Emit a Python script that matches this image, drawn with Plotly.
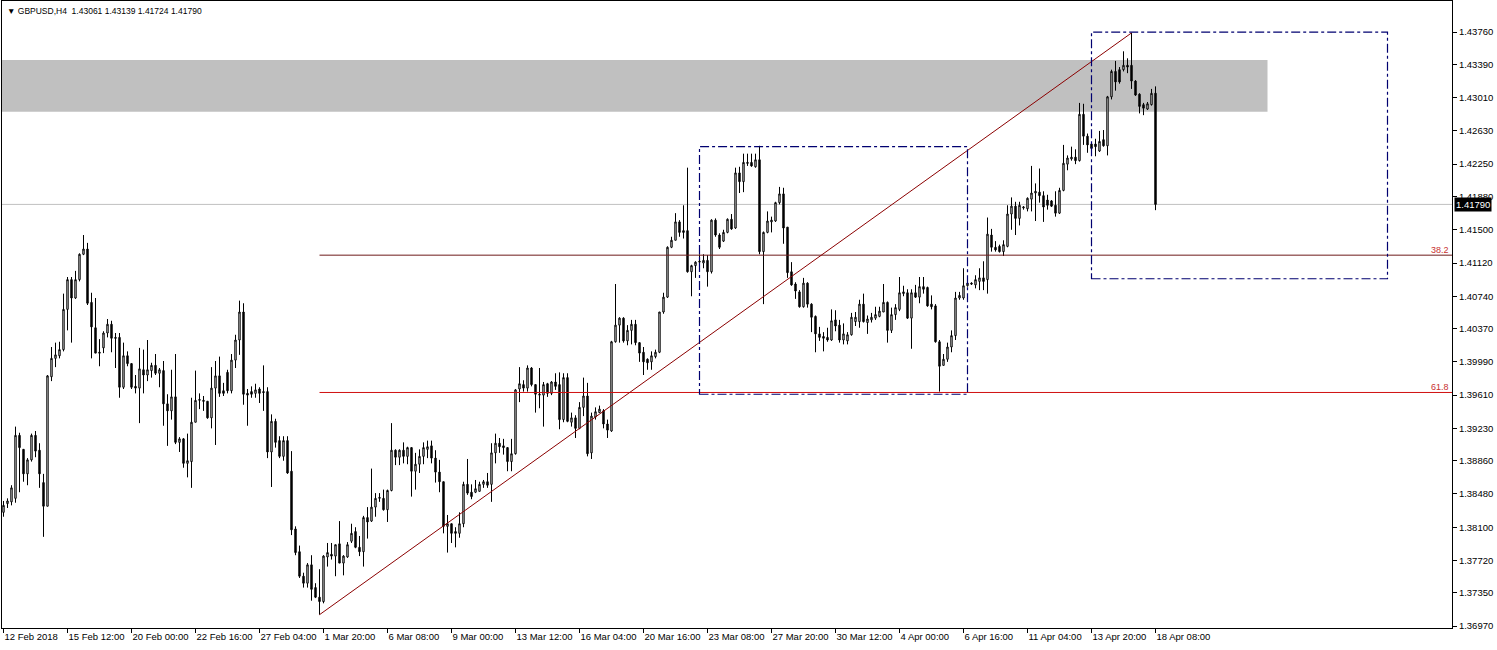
import plotly.graph_objects as go

# ---------------- data (GBPUSD H4) ----------------
header_text = "▼ GBPUSD,H4  1.43061 1.43139 1.41724 1.41790"

tick_labels = ["12 Feb 2018", "15 Feb 12:00", "20 Feb 00:00", "22 Feb 16:00", "27 Feb 04:00",
               "1 Mar 20:00", "6 Mar 08:00", "9 Mar 00:00", "13 Mar 12:00", "16 Mar 04:00",
               "20 Mar 16:00", "23 Mar 08:00", "27 Mar 20:00", "30 Mar 12:00", "4 Apr 00:00",
               "6 Apr 16:00", "11 Apr 04:00", "13 Apr 20:00", "18 Apr 08:00"]
bars_per_label = 16

price_ticks = [1.43760, 1.43390, 1.43010, 1.42630, 1.42250, 1.41880, 1.41500, 1.41120, 1.40740,
               1.40370, 1.39990, 1.39610, 1.39230, 1.38860, 1.38480, 1.38100, 1.37720, 1.37350, 1.36970]
price_range = [1.36948, 1.44115]

opens = [1.3827,1.3837,1.3839,1.3843,1.3915,1.3899,1.3871,1.3887,1.3915,1.3898,
         1.3861,1.3834,1.3982,1.4003,1.4006,1.4013,1.4059,1.4093,1.4072,1.4093,
         1.4122,1.4128,1.4067,1.4038,1.4010,1.4015,1.4032,1.4042,1.4027,1.4027,
         1.3970,1.4006,1.3997,1.3971,1.3969,1.3990,1.3984,1.3989,1.3995,1.3986,
         1.3989,1.3951,1.3943,1.3959,1.3907,1.3911,1.3883,1.3885,1.3930,1.3955,
         1.3955,1.3954,1.3935,1.3969,1.3983,1.3966,1.3987,1.3966,1.4001,1.4024,
         1.4056,1.3963,1.3965,1.3963,1.3968,1.3965,1.3965,1.3896,1.3931,1.3909,
         1.3891,1.3909,1.3874,1.3808,1.3782,1.3754,1.3746,1.3767,1.3741,1.3730,
         1.3725,1.3776,1.3779,1.3777,1.3791,1.3769,1.3776,1.3794,1.3805,1.3787,
         1.3782,1.3821,1.3817,1.3833,1.3843,1.3843,1.3830,1.3852,1.3898,1.3890,
         1.3898,1.3891,1.3901,1.3874,1.3882,1.3891,1.3899,1.3903,1.3889,1.3873,
         1.3862,1.3811,1.3814,1.3805,1.3803,1.3814,1.3859,1.3850,1.3850,1.3851,
         1.3859,1.3862,1.3859,1.3895,1.3906,1.3903,1.3901,1.3885,1.3894,1.3968,
         1.3973,1.3969,1.3992,1.3973,1.3961,1.3961,1.3974,1.3963,1.3976,1.3973,
         1.3933,1.3981,1.3930,1.3935,1.3923,1.3947,1.3960,1.3895,1.3936,1.3941,
         1.3943,1.3928,1.3920,1.4022,1.4041,1.4049,1.4023,1.4035,1.4042,1.4021,
         1.4010,1.4002,1.3999,1.4005,1.4010,1.4056,1.4073,1.4130,1.4138,1.4159,
         1.4149,1.4149,1.4102,1.4109,1.4113,1.4112,1.4115,1.4102,1.4161,1.4144,
         1.4137,1.4147,1.4162,1.4152,1.4215,1.4205,1.4227,1.4227,1.4222,1.4230,
         1.4125,1.4147,1.4159,1.4160,1.4181,1.4191,1.4153,1.4102,1.4088,1.4079,
         1.4062,1.4089,1.4065,1.4051,1.4031,1.4028,1.4027,1.4024,1.4047,1.4041,
         1.4024,1.4023,1.4030,1.4045,1.4045,1.4065,1.4044,1.4047,1.4049,1.4051,
         1.4056,1.4067,1.4035,1.4053,1.4059,1.4077,1.4078,1.4049,1.4078,1.4073,
         1.4085,1.4084,1.4065,1.4063,1.4022,1.3995,1.4002,1.4016,1.4029,1.4072,
         1.4072,1.4086,1.4089,1.4087,1.4091,1.4095,1.4093,1.4144,1.4130,1.4131,
         1.4125,1.4131,1.4168,1.4177,1.4163,1.4175,1.4174,1.4185,1.4192,1.4193,
         1.4189,1.4184,1.4183,1.4178,1.4169,1.4195,1.4225,1.4231,1.4233,1.4229,
         1.4282,1.4257,1.4248,1.4248,1.4240,1.4253,1.4246,1.4302,1.4331,1.4333,
         1.4333,1.4338,1.4338,1.4320,1.4305,1.4293,1.4288,1.4293,1.43061]

highs = [1.3840,1.3843,1.3858,1.3925,1.3918,1.3899,1.3889,1.3917,1.3920,1.3906,
         1.3871,1.3984,1.4016,1.4021,1.4022,1.4077,1.4096,1.4096,1.4103,1.4123,
         1.4144,1.4135,1.4078,1.4072,1.4025,1.4034,1.4048,1.4046,1.4032,1.4032,
         1.4021,1.4011,1.3997,1.3984,1.4015,1.4013,1.4024,1.3998,1.4008,1.3992,
         1.4000,1.3962,1.3990,1.4008,1.3913,1.3912,1.3917,1.3958,1.3989,1.3963,
         1.3960,1.3954,1.3993,1.4000,1.4005,1.3975,1.3990,1.4008,1.4030,1.4069,
         1.4066,1.3968,1.3971,1.3974,1.3970,1.3995,1.3970,1.3939,1.3934,1.3914,
         1.3914,1.3914,1.3897,1.3811,1.3789,1.3758,1.3769,1.3778,1.3746,1.3762,
         1.3778,1.3792,1.3792,1.3790,1.3817,1.3778,1.3793,1.3814,1.3810,1.3800,
         1.3823,1.3833,1.3877,1.3849,1.3849,1.3853,1.3853,1.3929,1.3899,1.3899,
         1.3907,1.3902,1.3901,1.3895,1.3899,1.3907,1.3909,1.3909,1.3898,1.3887,
         1.3862,1.3824,1.3814,1.3810,1.3827,1.3862,1.3888,1.3859,1.3864,1.3862,
         1.3864,1.3872,1.3906,1.3917,1.3912,1.3911,1.3901,1.3911,1.3968,1.3993,
         1.3978,1.3995,1.3993,1.3973,1.3992,1.3976,1.3975,1.3977,1.3986,1.3987,
         1.3986,1.3986,1.3941,1.3938,1.3953,1.3981,1.3975,1.3941,1.3947,1.3949,
         1.3945,1.3933,1.4023,1.4088,1.4050,1.4050,1.4041,1.4047,1.4047,1.4021,
         1.4016,1.4003,1.4011,1.4013,1.4056,1.4078,1.4131,1.4142,1.4169,1.4161,
         1.4178,1.4221,1.4110,1.4114,1.4122,1.4122,1.4121,1.4162,1.4163,1.4146,
         1.4150,1.4163,1.4168,1.4221,1.4222,1.4237,1.4237,1.4237,1.4237,1.4246,
         1.4148,1.4171,1.4165,1.4182,1.4199,1.4198,1.4153,1.4113,1.4090,1.4081,
         1.4095,1.4090,1.4066,1.4052,1.4039,1.4033,1.4038,1.4059,1.4058,1.4047,
         1.4043,1.4033,1.4055,1.4056,1.4070,1.4077,1.4052,1.4055,1.4062,1.4062,
         1.4088,1.4068,1.4061,1.4065,1.4096,1.4086,1.4082,1.4082,1.4087,1.4096,
         1.4096,1.4085,1.4075,1.4065,1.4024,1.4008,1.4021,1.4035,1.4079,1.4079,
         1.4106,1.4095,1.4090,1.4098,1.4106,1.4114,1.4164,1.4151,1.4137,1.4133,
         1.4138,1.4178,1.4187,1.4182,1.4182,1.4177,1.4187,1.4223,1.4203,1.4220,
         1.4194,1.4190,1.4184,1.4194,1.4198,1.4247,1.4235,1.4245,1.4242,1.4295,
         1.4294,1.4260,1.4250,1.4254,1.4263,1.4264,1.4303,1.4333,1.4343,1.4336,
         1.4354,1.4346,1.4375,1.4321,1.4306,1.4295,1.4296,1.4311,1.43139]

lows = [1.3822,1.3832,1.3835,1.3838,1.3850,1.3862,1.3858,1.3885,1.3890,1.3855,
        1.3799,1.3834,1.3977,1.3993,1.4003,1.4011,1.4035,1.4021,1.4071,1.4091,
        1.4121,1.4064,1.4003,1.4009,1.3994,1.4009,1.4027,1.4010,1.3992,1.3958,
        1.3968,1.3994,1.3968,1.3963,1.3929,1.3963,1.3977,1.3981,1.3984,1.3970,
        1.3926,1.3903,1.3933,1.3905,1.3896,1.3878,1.3867,1.3855,1.3930,1.3945,
        1.3943,1.3934,1.3923,1.3904,1.3959,1.3960,1.3963,1.3963,1.3992,1.4007,
        1.3950,1.3926,1.3958,1.3958,1.3952,1.3943,1.3889,1.3856,1.3901,1.3889,
        1.3886,1.3871,1.3801,1.3778,1.3752,1.3741,1.3741,1.3726,1.3729,1.3710,
        1.3723,1.3765,1.3773,1.3754,1.3769,1.3755,1.3775,1.3792,1.3786,1.3777,
        1.3765,1.3797,1.3816,1.3822,1.3839,1.3829,1.3816,1.3851,1.3881,1.3881,
        1.3883,1.3882,1.3845,1.3853,1.3872,1.3882,1.3889,1.3883,1.3861,1.3850,
        1.3803,1.3781,1.3792,1.3787,1.3798,1.3810,1.3847,1.3842,1.3849,1.3851,
        1.3855,1.3855,1.3839,1.3883,1.3895,1.3893,1.3874,1.3874,1.3893,1.3953,
        1.3965,1.3965,1.3971,1.3941,1.3946,1.3925,1.3959,1.3961,1.3967,1.3922,
        1.3930,1.3930,1.3925,1.3912,1.3922,1.3937,1.3891,1.3888,1.3933,1.3941,
        1.3923,1.3912,1.3919,1.4021,1.4021,1.4021,1.4018,1.4019,1.4018,1.3999,
        1.3984,1.3990,1.3990,1.4003,1.4009,1.4054,1.4072,1.4129,1.4138,1.4142,
        1.4140,1.4101,1.4074,1.4095,1.4105,1.4106,1.4085,1.4100,1.4142,1.4128,
        1.4136,1.4146,1.4150,1.4151,1.4192,1.4193,1.4223,1.4222,1.4221,1.4122,
        1.4065,1.4146,1.4147,1.4159,1.4179,1.4134,1.4095,1.4086,1.4071,1.4061,
        1.4061,1.4061,1.4033,1.4010,1.4023,1.4011,1.4022,1.4023,1.4034,1.4021,
        1.4019,1.4019,1.4029,1.4040,1.4038,1.4044,1.4031,1.4044,1.4047,1.4050,
        1.4056,1.4021,1.4032,1.4047,1.4057,1.4074,1.4048,1.4014,1.4072,1.4066,
        1.4077,1.4062,1.4059,1.4021,1.3965,1.3995,1.3999,1.4010,1.4024,1.4070,
        1.4070,1.4085,1.4087,1.4083,1.4081,1.4081,1.4077,1.4125,1.4125,1.4124,
        1.4120,1.4130,1.4150,1.4144,1.4155,1.4173,1.4171,1.4171,1.4160,1.4181,
        1.4159,1.4173,1.4176,1.4165,1.4168,1.4194,1.4218,1.4229,1.4225,1.4228,
        1.4247,1.4238,1.4241,1.4234,1.4239,1.4245,1.4235,1.4299,1.4309,1.4317,
        1.4331,1.4329,1.4311,1.4303,1.4283,1.4281,1.4287,1.4292,1.41724]

closes = [1.3835,1.3840,1.3855,1.3915,1.3901,1.3871,1.3887,1.3915,1.3897,1.3871,
          1.3834,1.3983,1.4003,1.4007,1.4013,1.4059,1.4093,1.4072,1.4093,1.4122,
          1.4128,1.4066,1.4039,1.4009,1.4009,1.4032,1.4042,1.4026,1.4026,1.3970,
          1.4006,1.3997,1.3970,1.3969,1.3991,1.3984,1.3990,1.3995,1.3986,1.3990,
          1.3951,1.3943,1.3959,1.3907,1.3911,1.3883,1.3886,1.3930,1.3955,1.3956,
          1.3954,1.3935,1.3969,1.3983,1.3963,1.3963,1.3966,1.4001,1.4024,1.4056,
          1.3962,1.3961,1.3962,1.3967,1.3963,1.3964,1.3896,1.3931,1.3907,1.3891,
          1.3909,1.3872,1.3807,1.3781,1.3754,1.3746,1.3767,1.3739,1.3730,1.3725,
          1.3777,1.3781,1.3777,1.3790,1.3769,1.3777,1.3790,1.3803,1.3787,1.3782,
          1.3821,1.3816,1.3833,1.3843,1.3844,1.3830,1.3852,1.3898,1.3890,1.3898,
          1.3891,1.3901,1.3874,1.3882,1.3891,1.3901,1.3902,1.3889,1.3873,1.3862,
          1.3811,1.3814,1.3803,1.3803,1.3814,1.3859,1.3849,1.3845,1.3854,1.3859,
          1.3862,1.3858,1.3895,1.3906,1.3902,1.3901,1.3885,1.3894,1.3967,1.3974,
          1.3969,1.3992,1.3973,1.3962,1.3962,1.3973,1.3963,1.3976,1.3971,1.3933,
          1.3981,1.3931,1.3935,1.3923,1.3947,1.3960,1.3894,1.3937,1.3942,1.3945,
          1.3928,1.3921,1.4022,1.4041,1.4049,1.4023,1.4035,1.4042,1.4021,1.4009,
          1.3999,1.3998,1.4006,1.4010,1.4056,1.4073,1.4130,1.4138,1.4159,1.4147,
          1.4147,1.4102,1.4109,1.4113,1.4114,1.4115,1.4102,1.4161,1.4144,1.4130,
          1.4147,1.4162,1.4151,1.4215,1.4205,1.4227,1.4226,1.4223,1.4230,1.4125,
          1.4147,1.4160,1.4161,1.4181,1.4191,1.4152,1.4101,1.4087,1.4080,1.4062,
          1.4089,1.4065,1.4050,1.4031,1.4027,1.4026,1.4024,1.4046,1.4040,1.4024,
          1.4031,1.4030,1.4050,1.4050,1.4065,1.4045,1.4048,1.4050,1.4053,1.4057,
          1.4067,1.4035,1.4053,1.4061,1.4078,1.4079,1.4049,1.4078,1.4073,1.4085,
          1.4082,1.4063,1.4062,1.4022,1.3994,1.4002,1.4016,1.4029,1.4072,1.4075,
          1.4086,1.4089,1.4088,1.4093,1.4095,1.4091,1.4145,1.4130,1.4127,1.4125,
          1.4133,1.4168,1.4177,1.4163,1.4178,1.4176,1.4186,1.4192,1.4194,1.4189,
          1.4176,1.4178,1.4177,1.4169,1.4195,1.4226,1.4232,1.4233,1.4229,1.4282,
          1.4257,1.4247,1.4243,1.4245,1.4251,1.4246,1.4302,1.4331,1.4319,1.4319,
          1.4338,1.4336,1.4320,1.4304,1.4291,1.4289,1.4294,1.4306,1.41790]

# chart objects (bar index / price anchors)
zone_bars = [-5, 316]
zone_prices = [1.4285, 1.4344]
fib_anchor_bars = [79, 282]
fib_anchor_prices = [1.3710, 1.4375]
fib_levels = [38.2, 61.8]
fib_colors = ["#6e1a1a", "#d01010"]
box1_bars, box1_prices = [174, 241], [1.3962, 1.4245]
box2_bars, box2_prices = [272, 346], [1.4094, 1.4376]
last_price = 1.41790

# ---------------- figure ----------------
bar_index = list(range(len(opens)))
FONT = "Liberation Sans, Arial, sans-serif"

fig = go.Figure(go.Candlestick(
    x=bar_index, open=opens, high=highs, low=lows, close=closes,
    increasing=dict(line=dict(color="black", width=1), fillcolor="white"),
    decreasing=dict(line=dict(color="black", width=1), fillcolor="black"),
    whiskerwidth=0, showlegend=False, hoverinfo="skip"))

shapes = []
shapes.append(dict(type="rect", xref="x", yref="y", x0=zone_bars[0], x1=zone_bars[1],
                   y0=zone_prices[0], y1=zone_prices[1], fillcolor="#c0c0c0",
                   line=dict(width=0), layer="below"))
shapes.append(dict(type="line", xref="paper", yref="y", x0=0, x1=1, y0=last_price, y1=last_price,
                   line=dict(color="#c0c0c0", width=1), layer="below"))
fhi, flo = fib_anchor_prices[1], fib_anchor_prices[0]
fib_prices = [fhi - lv / 100.0 * (fhi - flo) for lv in fib_levels]
for lv, fp, col in zip(fib_levels, fib_prices, fib_colors):
    shapes.append(dict(type="line", xref="x", yref="y", x0=fib_anchor_bars[0], x1=400,
                       y0=fp, y1=fp, line=dict(color=col, width=1)))
shapes.append(dict(type="line", xref="x", yref="y", x0=fib_anchor_bars[0], x1=fib_anchor_bars[1],
                   y0=fib_anchor_prices[0], y1=fib_anchor_prices[1],
                   line=dict(color="#8b0000", width=1)))
for bx, by in ((box1_bars, box1_prices), (box2_bars, box2_prices)):
    shapes.append(dict(type="rect", xref="x", yref="y", x0=bx[0], x1=bx[1], y0=by[0], y1=by[1],
                       line=dict(color="#000070", width=1.2, dash="dashdot"),
                       fillcolor="rgba(0,0,0,0)"))

annotations = [
    dict(text=header_text, xref="paper", yref="paper", x=0, y=1, xanchor="left", yanchor="top",
         xshift=3, yshift=-3, showarrow=False, font=dict(family=FONT, size=8.5, color="black")),
    dict(text=f"{last_price:.5f}", xref="paper", yref="y", x=1, y=last_price, xanchor="left",
         yanchor="middle", xshift=2, showarrow=False, bgcolor="black", borderpad=1,
         font=dict(family=FONT, size=9.5, color="white")),
]
for lv, fp, col in zip(fib_levels, fib_prices, fib_colors):
    annotations.append(dict(text=f"{lv:.1f}", xref="paper", yref="y", x=1, y=fp, xanchor="right",
                            yanchor="bottom", xshift=-1, yshift=-2, showarrow=False,
                            font=dict(family=FONT, size=9, color="#c83030")))

fig.update_layout(
    width=1497, height=650,
    margin=dict(l=2, r=45, t=1, b=22, autoexpand=False),
    paper_bgcolor="white", plot_bgcolor="white",
    boxgap=0.5,
    shapes=shapes, annotations=annotations,
    xaxis=dict(range=[-0.375, 362.125], tickmode="array",
               tickvals=[bars_per_label * i for i in range(len(tick_labels))],
               ticktext=tick_labels, ticks="outside", ticklen=4, tickcolor="black",
               ticklabelposition="outside right", tickangle=0, automargin=False,
               showline=True, linecolor="black", linewidth=1, mirror=True,
               showgrid=False, zeroline=False, rangeslider=dict(visible=False),
               tickfont=dict(family=FONT, size=9.5, color="black")),
    yaxis=dict(range=price_range, side="right", tickmode="array", tickvals=price_ticks,
               ticktext=[f"{v:.5f}" for v in price_ticks], ticks="outside", ticklen=4,
               tickcolor="black", showline=True, linecolor="black", linewidth=1, mirror=True,
               showgrid=False, zeroline=False, automargin=False,
               tickfont=dict(family=FONT, size=9.5, color="black")),
)

fig.write_html("out.html", config={"displayModeBar": False},
               post_script="document.body.style.margin='0px';document.body.style.overflow='hidden';")
